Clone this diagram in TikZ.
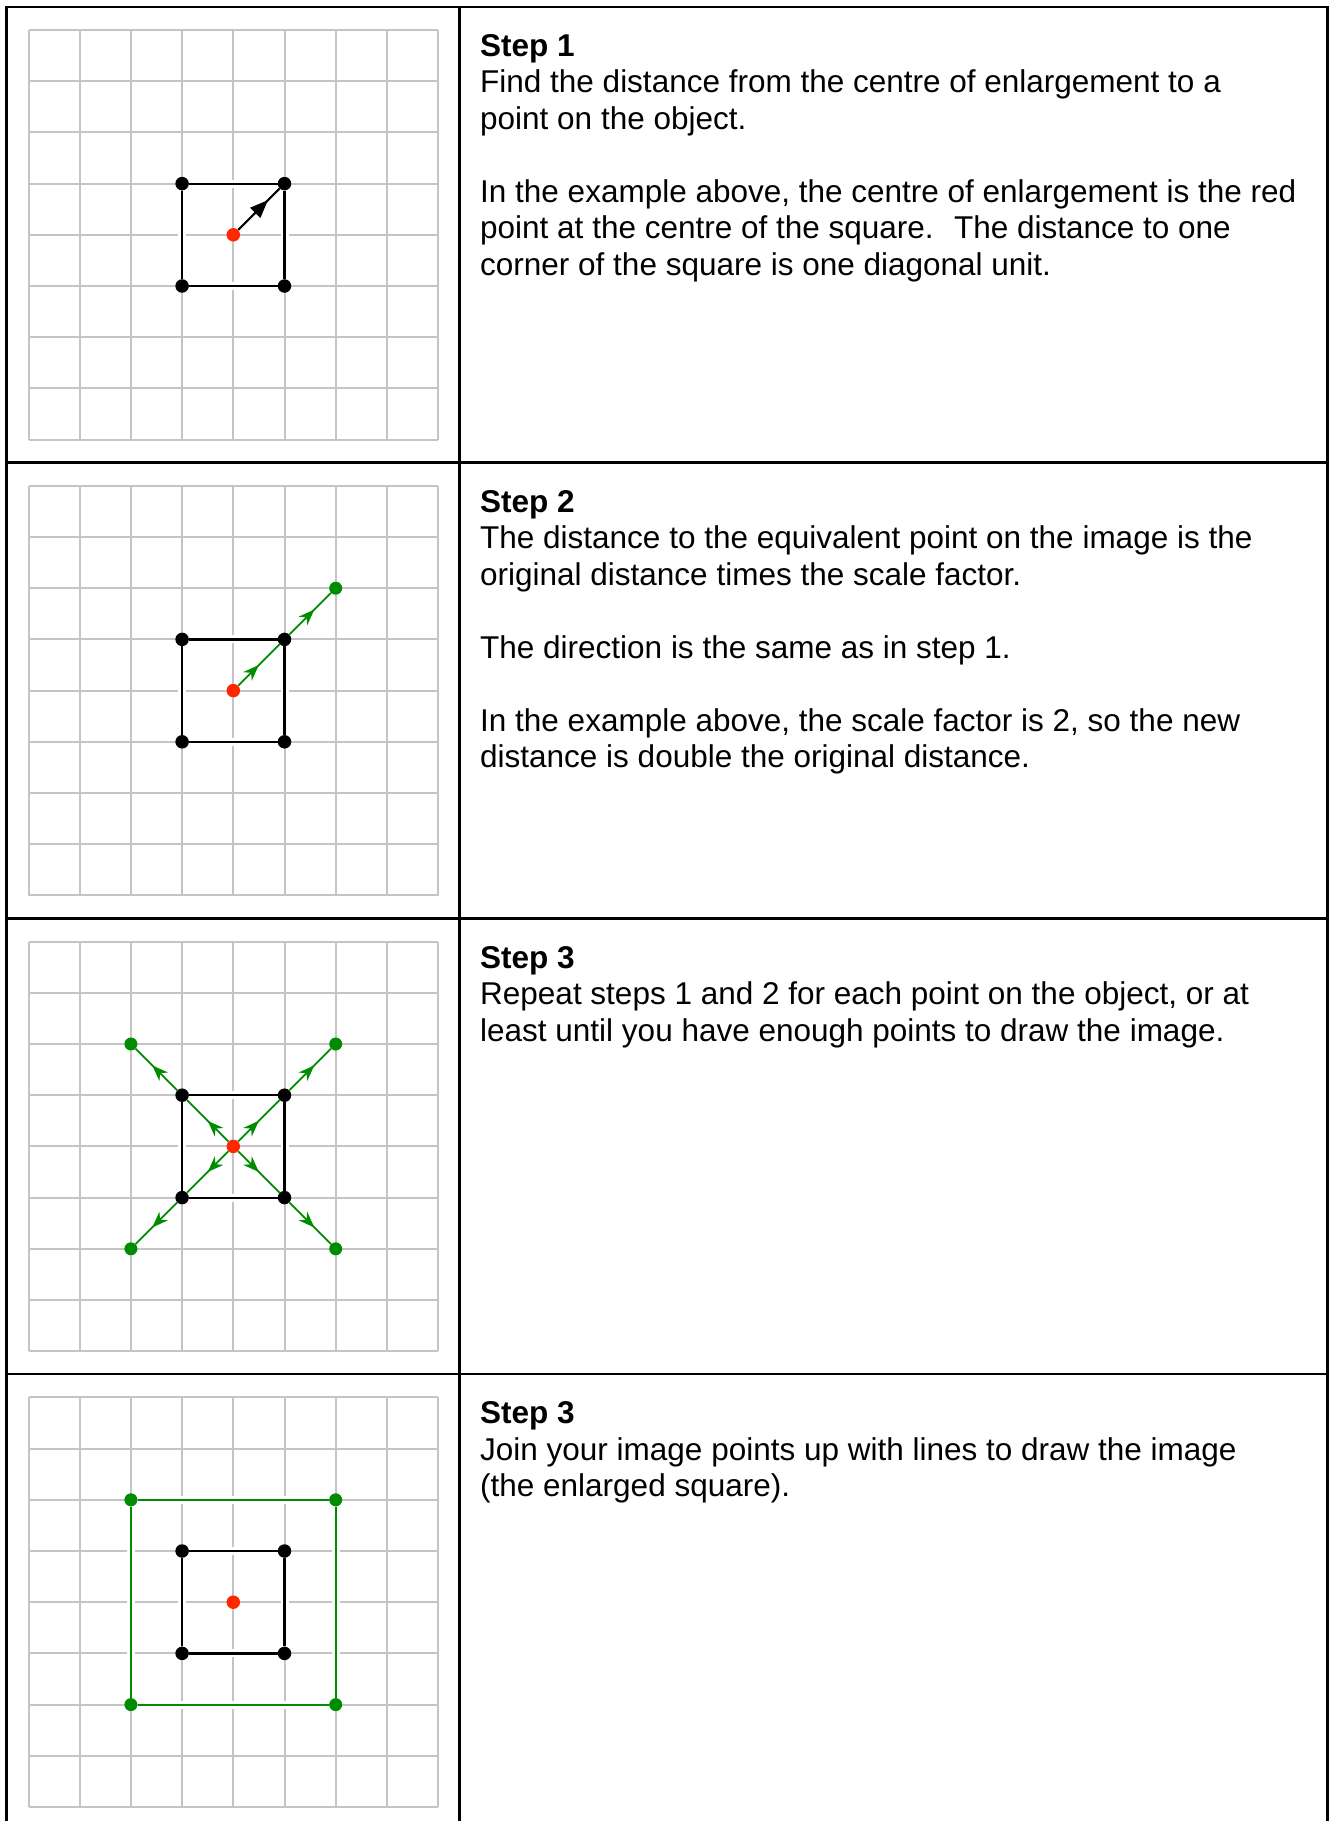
\documentclass[tikz,border=0pt]{standalone}
\usepackage{fontspec}
\setmainfont{Liberation Sans}
\usepackage{tikz}
\usetikzlibrary{arrows.meta, decorations.markings}
\definecolor{gridgray}{RGB}{196,196,196}
\definecolor{centrered}{RGB}{255,38,0}
\definecolor{imggreen}{RGB}{0,140,0}
\tikzset{
  %% ---- table ----
  frame/.style    = {draw=black, line width=2.4pt},
  gridline/.style = {draw=gridgray, line width=2pt},
  steptext/.style = {anchor=north west, align=left, inner sep=0pt,
                     font=\fontsize{31.5}{36.5}\selectfont},
  %% ---- points ----
  objdot/.style    = {circle, fill=black, inner sep=0pt, minimum size=13.5pt},
  centredot/.style = {circle, fill=centrered, inner sep=0pt, minimum size=13.5pt},
  imgdot/.style    = {circle, fill=imggreen, inner sep=0pt, minimum size=13pt},
  %% ---- lines ----
  objside/.style  = {draw=black, line width=2.2pt,
                     preaction={draw=white, line width=8pt}},
  imgside/.style  = {draw=imggreen, line width=2.2pt,
                     preaction={draw=white, line width=8pt}},
  blackray/.style = {color=black, line width=2pt, postaction={decorate},
                     decoration={markings, mark=at position #1 with
                       {\arrow{Triangle[length=18pt, width=14pt]}}}},
  blackray/.default = 0.72,
  greenray/.style = {color=imggreen, line width=1.8pt, postaction={decorate},
                     decoration={markings, mark=at position #1 with
                       {\arrow{Stealth[length=16pt, width=12pt, inset=5pt]}}}},
  greenray/.default = 0.5,
}

\begin{document}
\begin{tikzpicture}[x=1pt, y=-1pt]
  \useasboundingbox (0,0) rectangle (1331,1821);

  %% Table lines
  \draw[frame] (6.5,1821) -- (6.5,6.7) -- (1327.5,6.7) -- (1327.5,1821);
  \draw[frame] (459.5,6.7) -- (459.5,1821);
  \draw[frame] (6.5,462.5) -- (1327.5,462.5);
  \draw[frame] (6.5,918.3) -- (1327.5,918.3);
  \draw[frame] (6.5,1374.1) -- (1327.5,1374.1);

  %% Step 1
  \begin{scope}[shift={(0,6.7)}]
    \draw[gridline, shift={(28.5,23.3)}] (0,0) grid[step=51.2pt] (409.7,409.7);
    \node[centredot] (c1) at (233.3,228.1) {};
    \node[objdot] (nw1) at (182.1,176.9) {};
    \node[objdot] (ne1) at (284.5,176.9) {};
    \node[objdot] (se1) at (284.5,279.3) {};
    \node[objdot] (sw1) at (182.1,279.3) {};
    \draw[objside] (nw1) -- (ne1) -- (se1) -- (sw1) -- (nw1);
    \draw[blackray] (c1) -- (ne1);
    \node[steptext] (s1) at (480,27.5)
      {\textbf{Step 1}\\
       Find the distance from the centre of enlargement to a\\
       point on the object.\\[36.5pt]
       In the example above, the centre of enlargement is the red\\
       point at the centre of the square.~ The distance to one\\
       corner of the square is one diagonal unit.};
  \end{scope}

  %% Step 2
  \begin{scope}[shift={(0,462.5)}]
    \draw[gridline, shift={(28.5,23.3)}] (0,0) grid[step=51.2pt] (409.7,409.7);
    \node[centredot] (c2) at (233.3,228.1) {};
    \node[objdot] (nw2) at (182.1,176.9) {};
    \node[objdot] (ne2) at (284.5,176.9) {};
    \node[objdot] (se2) at (284.5,279.3) {};
    \node[objdot] (sw2) at (182.1,279.3) {};
    \node[imgdot] (gne2) at (335.7,125.7) {};
    \draw[objside] (nw2) -- (ne2) -- (se2) -- (sw2) -- (nw2);
    \draw[greenray] (c2) -- (ne2);
    \draw[greenray=0.6] (ne2) -- (gne2);
    \node[steptext] (s2) at (480,27.5)
      {\textbf{Step 2}\\
       The distance to the equivalent point on the image is the\\
       original distance times the scale factor.\\[36.5pt]
       The direction is the same as in step 1.\\[36.5pt]
       In the example above, the scale factor is 2, so the new\\
       distance is double the original distance.};
  \end{scope}

  %% Step 3
  \begin{scope}[shift={(0,918.3)}]
    \draw[gridline, shift={(28.5,23.3)}] (0,0) grid[step=51.2pt] (409.7,409.7);
    \node[centredot] (c3) at (233.3,228.1) {};
    \node[objdot] (nw3) at (182.1,176.9) {};
    \node[objdot] (ne3) at (284.5,176.9) {};
    \node[objdot] (se3) at (284.5,279.3) {};
    \node[objdot] (sw3) at (182.1,279.3) {};
    \node[imgdot] (gnw3) at (130.9,125.7) {};
    \node[imgdot] (gne3) at (335.7,125.7) {};
    \node[imgdot] (gse3) at (335.7,330.5) {};
    \node[imgdot] (gsw3) at (130.9,330.5) {};
    \draw[objside] (nw3) -- (ne3) -- (se3) -- (sw3) -- (nw3);
    \draw[greenray] (c3) -- (nw3);
    \draw[greenray] (c3) -- (ne3);
    \draw[greenray] (c3) -- (se3);
    \draw[greenray] (c3) -- (sw3);
    \draw[greenray=0.6] (nw3) -- (gnw3);
    \draw[greenray=0.6] (ne3) -- (gne3);
    \draw[greenray=0.6] (se3) -- (gse3);
    \draw[greenray=0.6] (sw3) -- (gsw3);
    \node[steptext] (s3) at (480,27.5)
      {\textbf{Step 3}\\
       Repeat steps 1 and 2 for each point on the object, or at\\
       least until you have enough points to draw the image.};
  \end{scope}

  %% Step 3 (join up)
  \begin{scope}[shift={(0,1374.1)}]
    \draw[gridline, shift={(28.5,23.3)}] (0,0) grid[step=51.2pt] (409.7,409.7);
    \node[centredot] (c4) at (233.3,228.1) {};
    \node[objdot] (nw4) at (182.1,176.9) {};
    \node[objdot] (ne4) at (284.5,176.9) {};
    \node[objdot] (se4) at (284.5,279.3) {};
    \node[objdot] (sw4) at (182.1,279.3) {};
    \node[imgdot] (gnw4) at (130.9,125.7) {};
    \node[imgdot] (gne4) at (335.7,125.7) {};
    \node[imgdot] (gse4) at (335.7,330.5) {};
    \node[imgdot] (gsw4) at (130.9,330.5) {};
    \draw[imgside] (gnw4) -- (gne4) -- (gse4) -- (gsw4) -- (gnw4);
    \draw[objside] (nw4) -- (ne4) -- (se4) -- (sw4) -- (nw4);
    \node[steptext] (s4) at (480,27.5)
      {\textbf{Step 3}\\
       Join your image points up with lines to draw the image\\
       (the enlarged square).};
  \end{scope}

\end{tikzpicture}
\end{document}
